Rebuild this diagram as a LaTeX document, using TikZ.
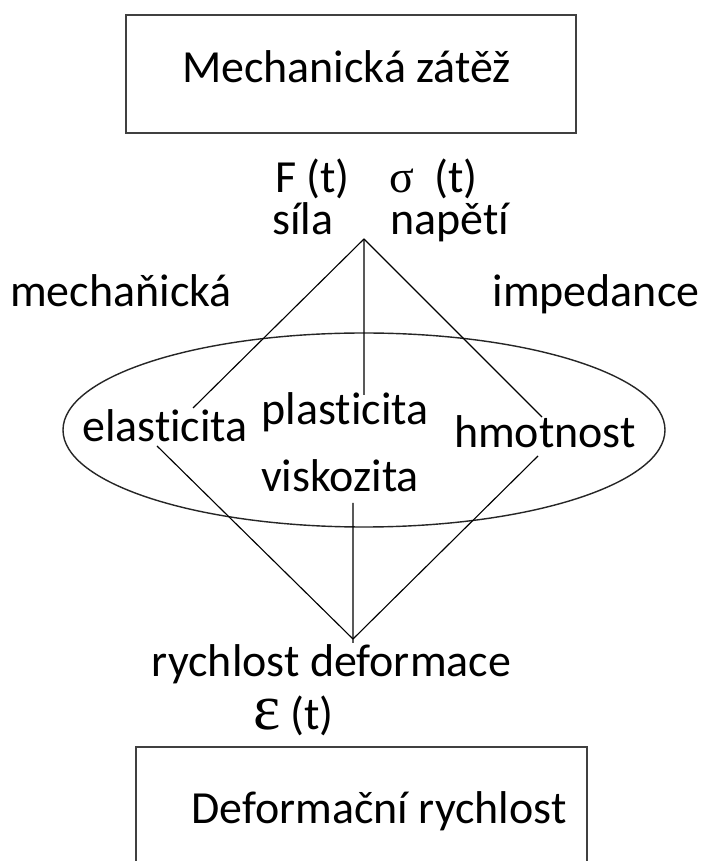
\documentclass[tikz,border=0pt]{standalone}
\usepackage{fontspec}
\setmainfont{Carlito}[Ligatures={NoCommon}]
\newfontfamily\greekfont{Liberation Serif}
\usetikzlibrary{positioning, calc}

\begin{document}
\begin{tikzpicture}[
    lbl/.style={font=\fontsize{32.7}{39}\selectfont, inner sep=0pt, anchor=base},
    conn/.style={black, line width=0.8pt},
    frame/.style={black!75, line width=1.4pt},
    ring/.style={black!85, line width=1pt}
  ]
    \useasboundingbox (0,0) rectangle (17.6,21.525);
    \clip (0,0) rectangle (17.6,21.525);
    \fill[white] (0,0) rectangle (17.6,21.525);

    % Load box (top)
    \draw[frame] (3.15,18.2) rectangle (14.4,21.15);
    \node[lbl] (load) at (8.6625,19.45) {Mechanická zátěž};

    % Input quantities
    \node[lbl] (force) at (7.8125,16.7) {F (t)};
    \node[lbl] (stress) at (10.8375,16.7) {{\greekfont σ}~~(t)};
    \node[lbl] (forcename) at (7.575,15.65) {síla};
    \node[lbl] (stressname) at (11.25,15.65) {napětí};

    % Impedance labels
    \node[lbl] (mech) at (3.025,13.85) {mechaňická};
    \node[lbl] (imped) at (14.9,13.85) {impedance};

    % Ellipse with properties
    \draw[ring] (9.1,10.775) ellipse [x radius=7.525, y radius=2.425];
    \node[lbl] (elast) at (4.125,10.475) {elasticita};
    \node[lbl] (plast) at (8.625,10.9) {plasticita};
    \node[lbl] (mass) at (13.625,10.325) {hmotnost};
    \node[lbl] (visc) at (8.5,9.225) {viskozita};

    % Output quantities
    \node[lbl] (rate) at (8.2875,4.6) {rychlost deformace};
    \node[lbl] (strain) at (7.3375,3.275) {\smash{\greekfont\fontsize{46}{50}\selectfont ε} (t)};

    % Rate box (bottom, runs off the page)
    \draw[frame] (3.4,-0.5) rectangle (14.675,2.85);
    \node[lbl] (ratebox) at (9.475,0.95) {Deformační rychlost};

    % Apex and vertex of the rhombus
    \coordinate (apex) at (9.1,15.55);
    \coordinate (vertex) at (8.825,5.55);

    \draw[conn] (apex) -- ([shift={(0.7,0.85)}]elast.base);
    \draw[conn] (apex) -- ([shift={(0.475,0.75)}]plast.base);
    \draw[conn] (apex) -- ([shift={(-0.075,0.775)}]mass.base);

    \draw[conn] ([shift={(-0.2,-0.1)}]elast.base) -- (vertex);
    \draw[conn] ([shift={(-0.175,-0.2)}]mass.base) -- (vertex);
    \draw[conn] ([shift={(0.325,-0.275)}]visc.base) -- ([yshift=-0.1cm]vertex);
\end{tikzpicture}
\end{document}
